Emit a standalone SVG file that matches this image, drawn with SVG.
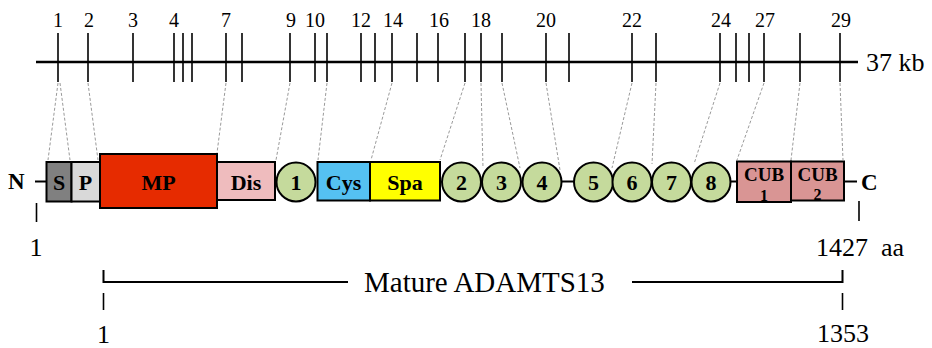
<svg xmlns="http://www.w3.org/2000/svg" width="932" height="348" viewBox="0 0 932 348" font-family="'Liberation Serif', 'Times New Roman', 'DejaVu Serif', serif">
<style>
text{font-family:'Liberation Serif','Times New Roman','DejaVu Serif',serif;fill:#000}
.tl{font-size:20px;text-anchor:middle}
.tk{stroke:#000;stroke-width:1.6}
.dl{stroke:#9a9a9a;stroke-width:1;stroke-dasharray:3 2;fill:none}
.box{stroke:#000;stroke-width:2}
.dom{font-size:22px;font-weight:bold;text-anchor:middle}
.cub{font-size:19px;font-weight:bold;text-anchor:middle}
.cub tspan{font-size:16px}
.cir{fill:#c5da9c;stroke:#000;stroke-width:2}
.cn{font-size:22px;font-weight:bold;text-anchor:middle}
.ln{stroke:#000;stroke-width:2;fill:none}
.num{font-size:26px}
</style>
<rect width="932" height="348" fill="#fff"/>
<g id="gene">
<line x1="36" y1="62" x2="858" y2="62" stroke="#000" stroke-width="2.4"/>
<g class="tk">
<line x1="58" y1="33" x2="58" y2="82"/><line x1="88" y1="33" x2="88" y2="82"/><line x1="133" y1="33" x2="133" y2="82"/><line x1="174" y1="33" x2="174" y2="82"/><line x1="183" y1="33" x2="183" y2="82"/><line x1="192" y1="33" x2="192" y2="82"/><line x1="226" y1="33" x2="226" y2="82"/><line x1="242" y1="33" x2="242" y2="82"/><line x1="290" y1="33" x2="290" y2="82"/><line x1="315" y1="33" x2="315" y2="82"/><line x1="327" y1="33" x2="327" y2="82"/><line x1="361" y1="33" x2="361" y2="82"/><line x1="375" y1="33" x2="375" y2="82"/><line x1="392" y1="33" x2="392" y2="82"/><line x1="417" y1="33" x2="417" y2="82"/><line x1="438" y1="33" x2="438" y2="82"/><line x1="465" y1="33" x2="465" y2="82"/><line x1="481" y1="33" x2="481" y2="82"/><line x1="502" y1="33" x2="502" y2="82"/><line x1="546" y1="33" x2="546" y2="82"/><line x1="569" y1="33" x2="569" y2="82"/><line x1="632" y1="33" x2="632" y2="82"/><line x1="656" y1="33" x2="656" y2="82"/><line x1="720" y1="33" x2="720" y2="82"/><line x1="736" y1="33" x2="736" y2="82"/><line x1="749" y1="33" x2="749" y2="82"/><line x1="764" y1="33" x2="764" y2="82"/><line x1="800" y1="33" x2="800" y2="82"/><line x1="840" y1="33" x2="840" y2="82"/>
</g>
<text class="tl" x="58" y="27">1</text><text class="tl" x="89" y="27">2</text><text class="tl" x="133" y="27">3</text><text class="tl" x="174" y="27">4</text><text class="tl" x="226" y="27">7</text><text class="tl" x="291" y="27">9</text><text class="tl" x="315" y="27">10</text><text class="tl" x="361" y="27">12</text><text class="tl" x="393" y="27">14</text><text class="tl" x="439" y="27">16</text><text class="tl" x="481" y="27">18</text><text class="tl" x="546" y="27">20</text><text class="tl" x="632" y="27">22</text><text class="tl" x="721" y="27">24</text><text class="tl" x="765" y="27">27</text><text class="tl" x="841" y="27">29</text>
<text x="866" y="71" font-size="26">37 kb</text>
</g>
<g id="connectors">
<line class="dl" x1="58" y1="83" x2="48" y2="160"/>
<line class="dl" x1="60" y1="83" x2="70" y2="160"/>
<line class="dl" x1="88" y1="83" x2="98" y2="160"/>
<line class="dl" x1="226" y1="83" x2="217" y2="153"/>
<line class="dl" x1="290" y1="83" x2="276" y2="160"/>
<line class="dl" x1="327" y1="83" x2="318" y2="160"/>
<line class="dl" x1="392" y1="83" x2="371" y2="160"/>
<line class="dl" x1="465" y1="83" x2="440" y2="160"/>
<line class="dl" x1="481" y1="83" x2="483" y2="168"/>
<line class="dl" x1="502" y1="83" x2="520" y2="168"/>
<line class="dl" x1="546" y1="83" x2="560" y2="170"/>
<line class="dl" x1="632" y1="83" x2="612" y2="168"/>
<line class="dl" x1="656" y1="83" x2="652" y2="164"/>
<line class="dl" x1="720" y1="83" x2="694" y2="164"/>
<line class="dl" x1="764" y1="83" x2="737" y2="160"/>
<line class="dl" x1="800" y1="83" x2="791" y2="160"/>
<line class="dl" x1="840" y1="83" x2="843" y2="160"/>
<line class="ln" x1="35" y1="181.5" x2="46" y2="181.5"/>
<line class="ln" x1="560" y1="181.5" x2="575" y2="181.5"/>
<line class="ln" x1="730" y1="181.5" x2="737" y2="181.5"/>
<line class="ln" x1="844" y1="181.5" x2="857" y2="181.5"/>
</g>
<g id="N"><text x="8" y="189" font-size="23" font-weight="bold">N</text></g>
<g id="S"><rect class="box" x="46.5" y="162" width="25" height="39.5" fill="#808080"/><text class="dom" x="59" y="190">S</text></g>
<g id="P"><rect class="box" x="71.5" y="162" width="28.5" height="39.5" fill="#d9d9d9"/><text class="dom" x="85.5" y="190">P</text></g>
<g id="MP"><rect class="box" x="100" y="154" width="117" height="54" fill="#e62b00"/><text class="dom" x="158.5" y="190">MP</text></g>
<g id="Dis"><rect class="box" x="217" y="162" width="58" height="38" fill="#efbcbe"/><text class="dom" x="246" y="190">Dis</text></g>
<g id="c1"><circle class="cir" cx="296" cy="182" r="19.5"/><text class="cn" x="296" y="190">1</text></g>
<g id="Cys"><rect class="box" x="317.5" y="162" width="52.5" height="38.5" fill="#55c1f2"/><text class="dom" x="343.5" y="190">Cys</text></g>
<g id="Spa"><rect class="box" x="370" y="162" width="70" height="38.5" fill="#ffff00"/><text class="dom" x="405" y="190">Spa</text></g>
<g id="c2"><circle class="cir" cx="461.5" cy="182" r="19.5"/><text class="cn" x="461.5" y="190">2</text></g>
<g id="c3"><circle class="cir" cx="501.5" cy="182" r="19.5"/><text class="cn" x="501.5" y="190">3</text></g>
<g id="c4"><circle class="cir" cx="542" cy="182" r="19.5"/><text class="cn" x="542" y="190">4</text></g>
<g id="c5"><circle class="cir" cx="593.5" cy="182" r="19.5"/><text class="cn" x="593.5" y="190">5</text></g>
<g id="c6"><circle class="cir" cx="632" cy="182" r="19.5"/><text class="cn" x="632" y="190">6</text></g>
<g id="c7"><circle class="cir" cx="671.5" cy="182" r="19.5"/><text class="cn" x="671.5" y="190">7</text></g>
<g id="c8"><circle class="cir" cx="711" cy="182" r="19.5"/><text class="cn" x="711" y="190">8</text></g>
<g id="CUB1"><rect class="box" x="737" y="161.5" width="54" height="40.5" fill="#d99594"/><text class="cub" x="764" y="181">CUB<tspan x="764" y="200.5">1</tspan></text></g>
<g id="CUB2"><rect class="box" x="791" y="161.5" width="53" height="39" fill="#d99594"/><text class="cub" x="817.5" y="181">CUB<tspan x="817.5" y="200">2</tspan></text></g>
<g id="C"><text x="861" y="190" font-size="23" font-weight="bold">C</text></g>
<g id="scale">
<line class="tk" x1="36.5" y1="203" x2="36.5" y2="222"/>
<line class="tk" x1="859" y1="201" x2="859" y2="221"/>
<text class="num" x="36" y="256" text-anchor="middle">1</text>
<text class="num" x="816" y="256">1427</text>
<text class="num" x="881" y="256">aa</text>
</g>
<g id="mature">
<path class="ln" d="M103.5 270 V282 H348"/>
<path class="ln" d="M632 282 H842.5 V270"/>
<text x="364" y="291.5" font-size="29">Mature ADAMTS13</text>
<line class="tk" x1="103.5" y1="293" x2="103.5" y2="310"/>
<line class="tk" x1="842.5" y1="293" x2="842.5" y2="310"/>
<text class="num" x="103.5" y="343" text-anchor="middle">1</text>
<text class="num" x="817" y="342">1353</text>
</g>
</svg>
